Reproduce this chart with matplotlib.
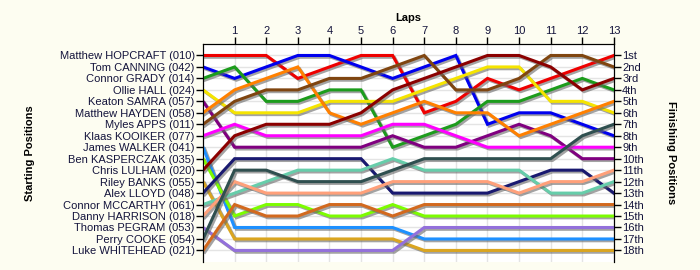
import matplotlib
matplotlib.use('Agg')
import matplotlib.pyplot as plt
import matplotlib.patheffects as pe

laps = list(range(0, 14))

drivers = ['Matthew HOPCRAFT (010)', 'Tom CANNING (042)', 'Connor GRADY (014)',
           'Ollie HALL (024)', 'Keaton SAMRA (057)', 'Matthew HAYDEN (058)',
           'Myles APPS (011)', 'Klaas KOOIKER (077)', 'James WALKER (041)',
           'Ben KASPERCZAK (035)', 'Chris LULHAM (020)', 'Riley BANKS (055)',
           'Alex LLOYD (048)', 'Connor MCCARTHY (061)', 'Danny HARRISON (018)',
           'Thomas PEGRAM (053)', 'Perry COOKE (054)', 'Luke WHITEHEAD (021)']

# position at lap 0..13
hopcraft = [1, 1, 1, 3, 2, 1, 1, 6, 5, 3, 4, 3, 2, 1]
canning = [2, 3, 2, 1, 1, 2, 3, 2, 1, 7, 6, 6, 7, 8]
grady = [3, 2, 5, 5, 4, 4, 9, 8, 7, 5, 5, 4, 3, 4]
hall = [4, 6, 6, 6, 5, 5, 5, 4, 3, 2, 2, 5, 5, 6]
samra = [5, 9, 9, 9, 9, 9, 8, 9, 9, 8, 7, 8, 10, 10]
hayden = [6, 4, 3, 2, 6, 7, 6, 5, 6, 6, 8, 7, 6, 5]
apps = [7, 5, 4, 4, 3, 3, 2, 1, 4, 4, 3, 1, 1, 2]
kooiker = [8, 7, 8, 8, 8, 8, 7, 7, 8, 9, 9, 9, 9, 9]
walker = [9, 16, 16, 16, 16, 16, 16, 17, 17, 17, 17, 17, 17, 17]
kasperczak = [10, 15, 14, 14, 15, 15, 14, 15, 15, 15, 15, 15, 15, 15]
lulham = [11, 8, 7, 7, 7, 6, 4, 3, 2, 1, 1, 2, 4, 3]
banks = [12, 17, 17, 17, 17, 17, 17, 18, 18, 18, 18, 18, 18, 18]
lloyd = [13, 10, 10, 10, 10, 10, 13, 13, 13, 13, 12, 11, 11, 13]
mccarthy = [14, 13, 12, 11, 11, 11, 10, 11, 11, 11, 11, 13, 13, 12]
harrison = [15, 12, 13, 13, 13, 13, 12, 12, 12, 12, 13, 12, 12, 11]
pegram = [16, 18, 18, 18, 18, 18, 18, 16, 16, 16, 16, 16, 16, 16]
cooke = [17, 11, 11, 12, 12, 12, 11, 10, 10, 10, 10, 10, 8, 7]
whitehead = [18, 14, 15, 15, 14, 14, 15, 14, 14, 14, 14, 14, 14, 14]

positions = [hopcraft, canning, grady, hall, samra, hayden, apps, kooiker, walker,
             kasperczak, lulham, banks, lloyd, mccarthy, harrison, pegram, cooke, whitehead]

colors = ['#ee0000', '#0000ee', '#1c9c1c', '#f5e400', '#800080', '#ff8000',
          '#7f4510', '#ff00ff', '#1e90ff', '#7cfc00', '#8b0000', '#daa520',
          '#191970', '#66cdaa', '#ffa07a', '#9370db', '#2f4f4f', '#d2691e']

finish_labels = ['1st', '2nd', '3rd', '4th', '5th', '6th', '7th', '8th', '9th',
                 '10th', '11th', '12th', '13th', '14th', '15th', '16th', '17th', '18th']

txt = '#14143c'
fs = 8.0
plt.rcParams['font.family'] = ['Liberation Sans', 'DejaVu Sans']

fig = plt.figure(figsize=(7, 2.7), dpi=100)
fig.patch.set_facecolor('#fdfdf1')
ax = fig.add_axes([0.29, 0.03, 0.587, 0.807])
ax.set_facecolor('white')

shadow = [pe.SimpleLineShadow(offset=(1.3, -1.3), shadow_color='#666666', alpha=0.6), pe.Normal()]
for pos, c in zip(positions, colors):
    ax.plot(laps, pos, color=c, lw=2.2, solid_joinstyle='miter', path_effects=shadow, zorder=3)

ax.set_xlim(0, 13)
ax.set_ylim(19, 0)
ax.set_yticks(range(1, 19))
ax.set_yticklabels(drivers, fontsize=fs, color=txt)
ax.set_xticks(range(1, 14))
ax.set_xticklabels([str(i) for i in range(1, 14)], fontsize=fs, color=txt)
ax.xaxis.tick_top()
ax.xaxis.set_label_position('top')
ax.set_xlabel('Laps', fontsize=fs, fontweight='bold', va='center')
ax.xaxis.set_label_coords(0.5, 1.12)
ax.set_ylabel('Starting Positions', fontsize=fs, fontweight='bold', va='center')
ax.yaxis.set_label_coords(-0.42, 0.5)
ax.tick_params(axis='both', length=5, width=1, pad=1)
ax.grid(True, color='#e4e4e4', lw=1, zorder=0)
ax.spines['bottom'].set_visible(False)

ax2 = ax.twinx()
ax2.set_ylim(19, 0)
ax2.set_yticks(range(1, 19))
ax2.set_yticklabels(finish_labels, fontsize=fs, color=txt)
ax2.tick_params(axis='y', length=5, width=1, pad=1)
ax2.set_ylabel('Finishing Positions', fontsize=fs, fontweight='bold', rotation=270, va='center')
ax2.yaxis.set_label_coords(1.14, 0.5)
ax2.spines['bottom'].set_visible(False)

fig.savefig('out.png', dpi=100, facecolor=fig.get_facecolor())
